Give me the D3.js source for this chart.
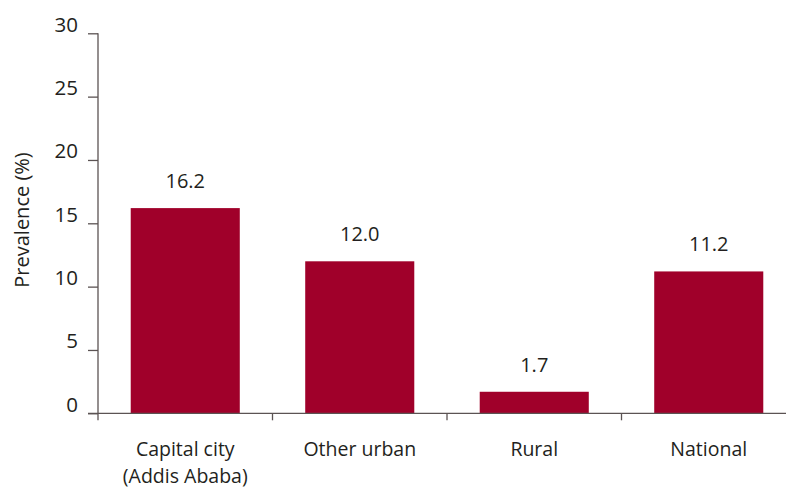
<!DOCTYPE html>
<html><head><meta charset="utf-8">
<script src="https://cdn.jsdelivr.net/npm/d3@7"></script>
<style>
body{margin:0;background:#fff;}
text{font-family:"Open Sans",sans-serif;fill:#231f20;}
</style></head>
<body><svg id="c" width="786" height="488"></svg>
<script>
const categories = [["Capital city","(Addis Ababa)"],["Other urban"],["Rural"],["National"]];
const values = [16.2, 12.0, 1.7, 11.2];
const yTicks = [0,5,10,15,20,25,30];
const yTitle = "Prevalence (%)";

const svg = d3.select("#c");
const x0 = 98, x1 = 796, yTop = 33.3, yBot = 413.3;
const x = d3.scaleBand().domain(d3.range(categories.length)).range([x0, x1]).paddingInner(0.375).paddingOuter(0.1875);
const y = d3.scaleLinear().domain([0,30]).range([yBot, yTop]);
const axisColor = "#5b5353";

svg.selectAll("rect.bar").data(values).enter().append("rect")
  .attr("class","bar")
  .attr("x",(d,i)=>x(i)).attr("width",x.bandwidth())
  .attr("y",d=>y(d)).attr("height",d=>y(0)-y(d))
  .attr("fill","#a0002a");

// y axis
const ya = svg.append("g").attr("transform",`translate(${x0},0)`)
  .call(d3.axisLeft(y).tickValues(yTicks).tickSize(10).tickPadding(10).tickFormat(d3.format("d")));
ya.select(".domain").remove();
ya.selectAll(".tick line").attr("stroke",axisColor).attr("stroke-width",1.3);
ya.selectAll(".tick text").attr("font-size",20.5).attr("font-family","Open Sans").attr("fill","#231f20").attr("dy","-0.1em");
svg.append("line").attr("x1",x0).attr("x2",x0).attr("y1",yTop).attr("y2",yBot+7).attr("stroke",axisColor).attr("stroke-width",1.3);

// x baseline and category separators
svg.append("line").attr("x1",x0-10).attr("x2",786).attr("y1",yBot).attr("y2",yBot).attr("stroke",axisColor).attr("stroke-width",1.3);
const step = x.step();
svg.selectAll("line.sep").data(d3.range(1,categories.length)).enter().append("line")
  .attr("class","sep")
  .attr("x1",i=>x0+i*step).attr("x2",i=>x0+i*step)
  .attr("y1",yBot).attr("y2",yBot+7).attr("stroke",axisColor).attr("stroke-width",1.3);

// value labels
svg.selectAll("text.val").data(values).enter().append("text")
  .attr("class","val")
  .attr("x",(d,i)=>x(i)+x.bandwidth()/2).attr("y",d=>y(d)-20)
  .attr("text-anchor","middle").attr("font-size",20)
  .text(d=>d.toFixed(1));

// category labels
const cl = svg.selectAll("text.cat").data(categories).enter().append("text")
  .attr("class","cat").attr("text-anchor","middle").attr("font-size",19.5)
  .attr("x",(d,i)=>x(i)+x.bandwidth()/2).attr("y",456);
cl.selectAll("tspan").data(d=>d).enter().append("tspan")
  .attr("x",function(){return d3.select(this.parentNode).attr("x");})
  .attr("dy",(d,i)=>i===0?0:27).text(d=>d);

// y title
svg.append("text").attr("transform","translate(29,220) rotate(-90)")
  .attr("text-anchor","middle").attr("font-size",20).text(yTitle);
</script></body></html>
